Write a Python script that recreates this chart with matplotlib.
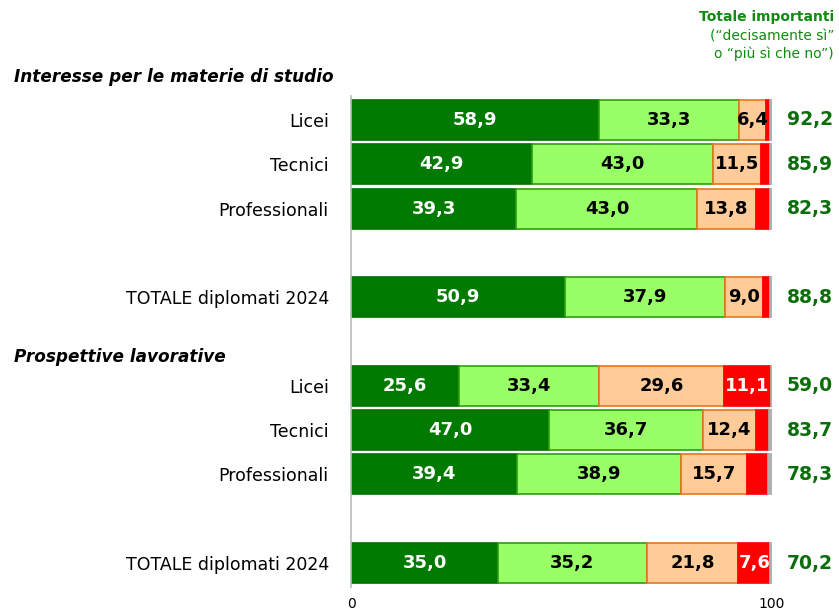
import matplotlib
matplotlib.use("Agg")
import matplotlib.pyplot as plt
import numpy as np

categories = ["Licei", "Tecnici", "Professionali", "TOTALE diplomati 2024",
              "Licei", "Tecnici", "Professionali", "TOTALE diplomati 2024"]
slots = [0, 1, 2, 4, 6, 7, 8, 10]
decisamente_si = [58.9, 42.9, 39.3, 50.9, 25.6, 47.0, 39.4, 35.0]
piu_si = [33.3, 43.0, 43.0, 37.9, 33.4, 36.7, 38.9, 35.2]
piu_no = [6.4, 11.5, 13.8, 9.0, 29.6, 12.4, 15.7, 21.8]
decisamente_no = [1.0, 2.2, 3.4, 1.8, 11.1, 3.3, 5.1, 7.6]
non_risponde = [0.4, 0.4, 0.5, 0.5, 0.3, 0.6, 0.9, 0.4]
totale = [92.2, 85.9, 82.3, 88.8, 59.0, 83.7, 78.3, 70.2]
sections = ["Interesse per le materie di studio", "Prospettive lavorative"]

series = [decisamente_si, piu_si, piu_no, decisamente_no, non_risponde]
faces = ["#007A00", "#99FF66", "#FFCC99", "#FF0000", "#B0B0B0"]
edges = ["#007000", "#2E9E10", "#E8761E", "#FF0000", "#B0B0B0"]
txtcol = ["white", "black", "black", "white", None]
minlab = [0, 0, 0, 6, 999]

fig = plt.figure(figsize=(8.39, 6.12), dpi=100)
ax = fig.add_axes([351/839, 1-587.4/612, (772-351)/839, (587.4-95.6)/612])

def fmt(v):
    return f"{v:.1f}".replace(".", ",")

left = np.zeros(len(slots))
for s, fc, ec, tc, ml in zip(series, faces, edges, txtcol, minlab):
    vals = np.array(s)
    ax.barh(slots, vals, left=left, height=0.9, color=fc, edgecolor=ec, linewidth=1.2)
    for y, l, v in zip(slots, left, vals):
        if tc is not None and v >= ml:
            ax.text(l + v/2, y, fmt(v), ha="center", va="center", color=tc,
                    fontsize=13, fontweight="bold")
    left += vals

for y, t in zip(slots, totale):
    ax.text(103.5, y, fmt(t), ha="left", va="center", color="#0A6E0A",
            fontsize=13.5, fontweight="bold")

ax.set_xlim(0, 100)
ax.set_ylim(10.55, -0.55)
ax.set_yticks(slots)
ax.set_yticklabels(categories, fontsize=12.5)
ax.set_xticks([0, 100])
ax.set_xticklabels(["0", "100"], fontsize=10)
ax.tick_params(axis="y", length=0, pad=16)
ax.tick_params(axis="x", length=0, pad=7)
for sp in ["top", "right", "bottom"]:
    ax.spines[sp].set_visible(False)
ax.spines["left"].set_color("#BBBBBB")
ax.spines["left"].set_linewidth(1.2)

fig.text(14/839, 1-77/612, sections[0], fontsize=12.2, fontweight="bold",
         fontstyle="italic", ha="left", va="center")
fig.text(14/839, 1-357/612, sections[1], fontsize=12.2, fontweight="bold",
         fontstyle="italic", ha="left", va="center")

fig.text(834/839, 1-17/612, "Totale importanti", fontsize=10, fontweight="bold",
         color="#108A10", ha="right", va="center")
fig.text(834/839, 1-37/612, "(\u201cdecisamente s\u00ec\u201d", fontsize=10,
         color="#108A10", ha="right", va="center")
fig.text(834/839, 1-54/612, "o \u201cpi\u00f9 s\u00ec che no\u201d)", fontsize=10,
         color="#108A10", ha="right", va="center")

fig.savefig("out.png", dpi=100)
